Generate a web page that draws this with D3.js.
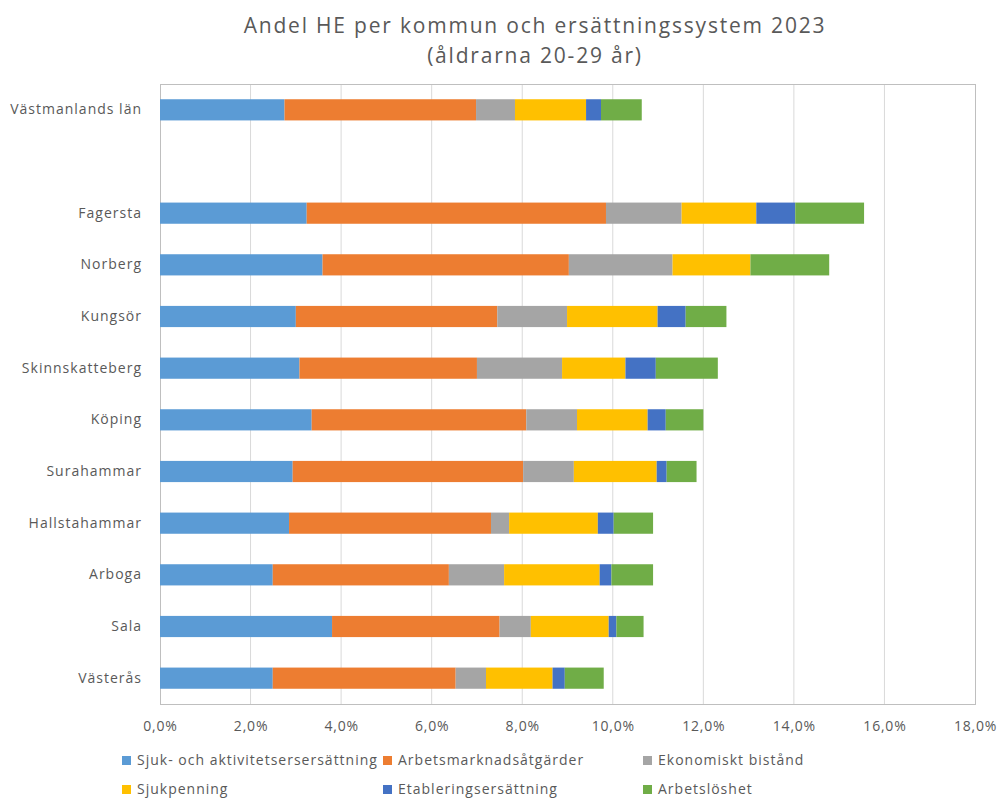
<!DOCTYPE html>
<html>
<head>
<meta charset="utf-8">
<script src="https://cdn.jsdelivr.net/npm/d3@7"></script>
<style>
  body { margin: 0; background: #fff; }
  svg { display: block; font-family: "Open Sans", sans-serif; }
</style>
</head>
<body>
<div id="chart"></div>
<script>
// kommuner, top to bottom (blank row after the county)
const categories = ["Västmanlands län", " ", "Fagersta", "Norberg", "Kungsör", "Skinnskatteberg", "Köping", "Surahammar", "Hallstahammar", "Arboga", "Sala", "Västerås"];

// andel (%) per ersättningssystem
const sjukAktivitet = [2.75, null, 3.24, 3.59, 3.00, 3.08, 3.35, 2.93, 2.85, 2.49, 3.80, 2.49];
const arbetsmarknad = [4.23, null, 6.61, 5.44, 4.45, 3.92, 4.74, 5.09, 4.46, 3.89, 3.70, 4.04];
const ekonomiskt = [0.86, null, 1.67, 2.29, 1.54, 1.88, 1.12, 1.12, 0.40, 1.22, 0.69, 0.67];
const sjukpenning = [1.57, null, 1.65, 1.72, 2.00, 1.40, 1.56, 1.83, 1.96, 2.11, 1.72, 1.47];
const etablering = [0.33, null, 0.86, 0.00, 0.62, 0.67, 0.40, 0.22, 0.35, 0.26, 0.17, 0.27];
const arbetsloshet = [0.90, null, 1.52, 1.74, 0.90, 1.37, 0.83, 0.66, 0.87, 0.92, 0.60, 0.86];

const seriesNames = ["Sjuk- och aktivitetsersersättning", "Arbetsmarknadsåtgärder", "Ekonomiskt bistånd", "Sjukpenning", "Etableringsersättning", "Arbetslöshet"];
const seriesColors = ["#5B9BD5", "#ED7D31", "#A5A5A5", "#FFC000", "#4472C4", "#70AD47"];
const xTicks = [0, 2, 4, 6, 8, 10, 12, 14, 16, 18];

const series = [sjukAktivitet, arbetsmarknad, ekonomiskt, sjukpenning, etablering, arbetsloshet].map((values, i) => ({
  name: seriesNames[i],
  color: seriesColors[i],
  data: values.map((v) => v || 0),
}));

// stack
let acc = Array(categories.length).fill(0);
series.forEach((s) => {
  s.stacked = s.data.map((v, i) => [acc[i], (acc[i] += v)]);
});

const width = 997;
const height = 798;
const margin = { top: 84, right: 22, bottom: 94, left: 160 };
const textColor = "#595959";

const sv = d3.formatLocale({ decimal: ",", thousands: " ", grouping: [3], currency: ["", " kr"] });
const fmt = sv.format(".1f");

const x = d3.scaleLinear().domain([0, 18]).range([margin.left, width - margin.right]);
const y = d3.scaleBand().domain(categories).range([margin.top, height - margin.bottom]).paddingInner(0.59).paddingOuter(0.295);

const svg = d3.select("#chart").append("svg").attr("width", width).attr("height", height);

// title
svg.append("g")
  .attr("fill", textColor)
  .attr("font-size", 21)
  .attr("letter-spacing", 1.8)
  .attr("text-anchor", "middle")
  .selectAll("text")
  .data(["Andel HE per kommun och ersättningssystem 2023", "(åldrarna 20-29 år)"])
  .join("text")
  .attr("x", 535)
  .attr("y", (_, i) => 33 + i * 30)
  .text((d) => d);

// gridlines
svg.append("g")
  .attr("stroke", "#D9D9D9")
  .selectAll("line")
  .data(xTicks.slice(1, -1))
  .join("line")
  .attr("x1", (d) => x(d))
  .attr("x2", (d) => x(d))
  .attr("y1", margin.top)
  .attr("y2", height - margin.bottom);

// plot frame
svg.append("rect")
  .attr("x", margin.left + 0.5)
  .attr("y", margin.top + 0.5)
  .attr("width", x(18) - margin.left)
  .attr("height", height - margin.bottom - margin.top)
  .attr("fill", "none")
  .attr("stroke", "#BFBFBF");

// bars
svg.append("g")
  .selectAll("g")
  .data(series)
  .join("g")
  .attr("fill", (d) => d.color)
  .selectAll("rect")
  .data((d) => d.stacked)
  .join("rect")
  .attr("x", (d) => x(d[0]))
  .attr("width", (d) => x(d[1]) - x(d[0]))
  .attr("y", (_, i) => y(categories[i]))
  .attr("height", y.bandwidth());

// y axis labels
const yAxisG = svg.append("g")
  .attr("transform", `translate(${margin.left},0)`)
  .call(d3.axisLeft(y).tickSize(0).tickPadding(18));
yAxisG.select(".domain").remove();
yAxisG.selectAll("text")
  .attr("fill", textColor)
  .attr("font-size", 14)
  .attr("letter-spacing", 1)
  .attr("font-family", "Open Sans, sans-serif");

// x axis
const xAxisG = svg.append("g")
  .attr("transform", `translate(0,${height - margin.bottom})`)
  .call(d3.axisBottom(x).tickValues(xTicks).tickSize(0).tickPadding(17).tickFormat((d) => fmt(d) + "%"));
xAxisG.select(".domain").remove();
xAxisG.selectAll("text")
  .attr("fill", textColor)
  .attr("font-size", 14)
  .attr("letter-spacing", 0.8)
  .attr("font-family", "Open Sans, sans-serif");

// legend
const legendCols = [122, 383, 643];
const legend = svg.append("g")
  .selectAll("g")
  .data(series)
  .join("g")
  .attr("transform", (_, i) => `translate(${legendCols[i % 3]},${760 + Math.floor(i / 3) * 29})`);
legend.append("rect")
  .attr("x", 0)
  .attr("y", -4)
  .attr("width", 9)
  .attr("height", 9)
  .attr("fill", (d) => d.color);
legend.append("text")
  .attr("x", 15)
  .attr("dy", "0.35em")
  .attr("fill", textColor)
  .attr("font-size", 14)
  .attr("letter-spacing", 1)
  .text((d) => d.name);
</script>
</body>
</html>
